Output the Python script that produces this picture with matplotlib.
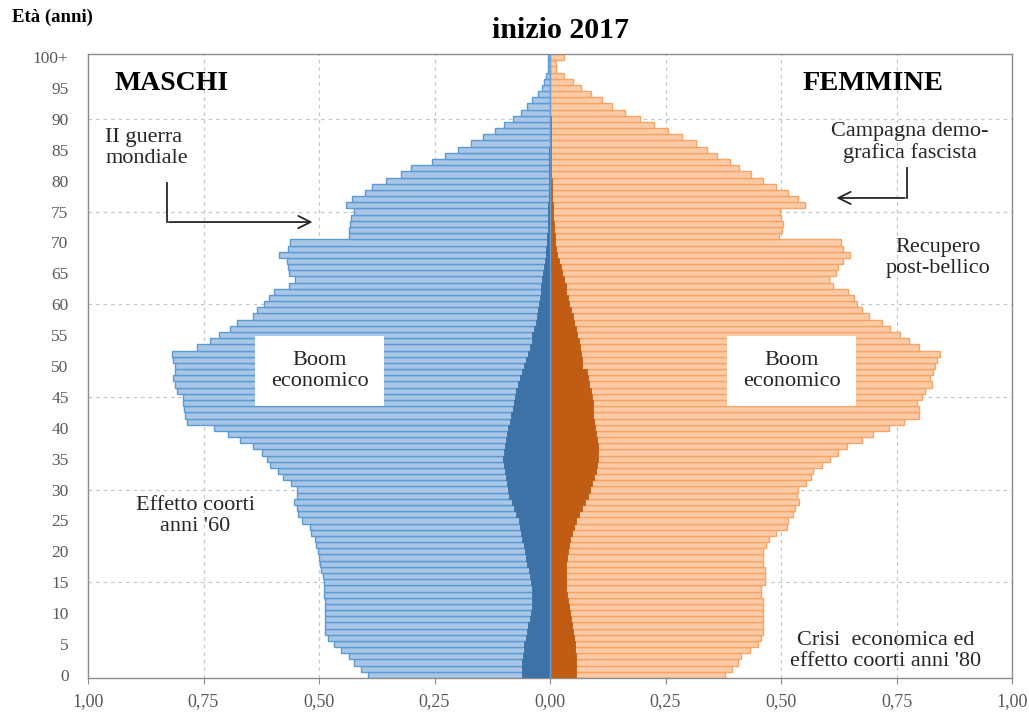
import numpy as np
import matplotlib
matplotlib.use("Agg")
import matplotlib.pyplot as plt

plt.rcParams['font.family'] = ['Liberation Serif', 'DejaVu Serif']

# eta' 0..100+ ; valori in % della popolazione totale
ages = list(range(101))
age_ticks = list(range(0, 101, 5))
age_labels = [str(a) for a in range(0, 100, 5)] + ['100+']

males_total = [
    0.395, 0.41, 0.425, 0.435, 0.453, 0.468, 0.48, 0.486, 0.487, 0.487,
    0.488, 0.487, 0.488, 0.489, 0.49, 0.49, 0.492, 0.495, 0.497, 0.5,
    0.503, 0.506, 0.508, 0.518, 0.52, 0.536, 0.545, 0.547, 0.555, 0.548,
    0.547, 0.56, 0.577, 0.588, 0.605, 0.612, 0.623, 0.642, 0.67, 0.696,
    0.728, 0.785, 0.79, 0.793, 0.795, 0.795, 0.807, 0.811, 0.815, 0.811,
    0.811, 0.815, 0.818, 0.764, 0.735, 0.717, 0.692, 0.677, 0.642, 0.634,
    0.62, 0.609, 0.597, 0.566, 0.553, 0.566, 0.568, 0.57, 0.587, 0.568,
    0.563, 0.436, 0.436, 0.432, 0.43, 0.425, 0.442, 0.428, 0.40, 0.385,
    0.355, 0.322, 0.30, 0.255, 0.228, 0.2, 0.17, 0.145, 0.12, 0.1,
    0.08, 0.063, 0.05, 0.038, 0.027, 0.018, 0.012, 0.008, 0.005, 0.004,
    0.005]

females_total = [
    0.378, 0.393, 0.407, 0.414, 0.432, 0.45, 0.457, 0.461, 0.462, 0.461,
    0.462, 0.461, 0.46, 0.457, 0.457, 0.465, 0.466, 0.465, 0.461, 0.461,
    0.462, 0.468, 0.475, 0.49, 0.512, 0.515, 0.526, 0.53, 0.54, 0.535,
    0.537, 0.555, 0.566, 0.57, 0.588, 0.605, 0.624, 0.642, 0.675, 0.70,
    0.733, 0.766, 0.798, 0.798, 0.795, 0.805, 0.812, 0.826, 0.823, 0.83,
    0.833, 0.837, 0.844, 0.798, 0.776, 0.758, 0.736, 0.718, 0.69, 0.675,
    0.664, 0.657, 0.646, 0.613, 0.603, 0.62, 0.624, 0.635, 0.65, 0.635,
    0.63, 0.495, 0.502, 0.505, 0.50, 0.497, 0.551, 0.537, 0.515, 0.49,
    0.46, 0.435, 0.41, 0.389, 0.362, 0.34, 0.315, 0.285, 0.255, 0.226,
    0.195, 0.163, 0.134, 0.112, 0.089, 0.067, 0.049, 0.03, 0.013, 0.013,
    0.03]

males_foreign = [
    0.06, 0.06, 0.06, 0.059, 0.057, 0.056, 0.053, 0.05, 0.047, 0.044,
    0.042, 0.04, 0.038, 0.038, 0.039, 0.041, 0.043, 0.046, 0.049, 0.052,
    0.055, 0.057, 0.06, 0.062, 0.064, 0.068, 0.073, 0.078, 0.083, 0.088,
    0.09, 0.093, 0.096, 0.098, 0.10, 0.102, 0.10, 0.098, 0.095, 0.093,
    0.09, 0.087, 0.084, 0.08, 0.078, 0.076, 0.073, 0.07, 0.066, 0.06,
    0.056, 0.052, 0.048, 0.044, 0.04, 0.038, 0.034, 0.031, 0.028, 0.026,
    0.024, 0.022, 0.02, 0.019, 0.017, 0.015, 0.013, 0.011, 0.009, 0.008,
    0.007, 0.006, 0.005, 0.005, 0.004, 0.004, 0.004, 0.003, 0.003, 0.003,
    0.003, 0.002, 0.002, 0.002, 0.002, 0.002, 0.001, 0.001, 0.001, 0.001,
    0.001, 0.001, 0.001, 0.001, 0.001, 0.001, 0.001, 0.001, 0.001, 0.001,
    0.001]

females_foreign = [
    0.056, 0.056, 0.056, 0.056, 0.055, 0.054, 0.052, 0.05, 0.047, 0.045,
    0.043, 0.041, 0.039, 0.037, 0.035, 0.034, 0.034, 0.034, 0.034, 0.036,
    0.038, 0.041, 0.044, 0.048, 0.052, 0.057, 0.063, 0.07, 0.076, 0.082,
    0.087, 0.091, 0.095, 0.099, 0.102, 0.103, 0.103, 0.103, 0.101, 0.099,
    0.097, 0.095, 0.094, 0.093, 0.092, 0.09, 0.088, 0.085, 0.082, 0.08,
    0.07, 0.069, 0.067, 0.065, 0.062, 0.059, 0.056, 0.052, 0.049, 0.045,
    0.041, 0.038, 0.035, 0.034, 0.03, 0.027, 0.023, 0.02, 0.016, 0.012,
    0.011, 0.01, 0.009, 0.008, 0.007, 0.006, 0.006, 0.005, 0.005, 0.004,
    0.004, 0.003, 0.003, 0.003, 0.003, 0.003, 0.002, 0.002, 0.002, 0.002,
    0.002, 0.001, 0.001, 0.001, 0.001, 0.001, 0.001, 0.001, 0.001, 0.001,
    0.001]

ages = np.array(ages)
m_tot = -np.array(males_total)
m_for = -np.array(males_foreign)
f_tot = np.array(females_total)
f_for = np.array(females_foreign)

fig = plt.figure(figsize=(10.29, 7.15), dpi=100)
ax = fig.add_axes([88 / 1029, 1 - 678 / 715, 924 / 1029, 624 / 715])

# griglia tratteggiata
for a in range(15, 100, 15):
    ax.axhline(a, color='#c8c8c8', lw=0.9, ls=(0, (3, 3)), zorder=0)
for v in [-0.75, -0.5, -0.25, 0.25, 0.5, 0.75]:
    ax.axvline(v, color='#c8c8c8', lw=0.9, ls=(0, (3, 3)), zorder=0)

ax.barh(ages, m_tot, height=1.0, color='#a9c6e6', edgecolor='#5b9bd5',
        linewidth=1.0, zorder=2)
ax.barh(ages, f_tot, height=1.0, color='#fbcba7', edgecolor='#f6a465',
        linewidth=1.0, zorder=2)
ax.barh(ages, m_for, height=1.0, color='#3c72a6', edgecolor='#3c72a6',
        linewidth=0.6, zorder=3)
ax.barh(ages, f_for, height=1.0, color='#c05c14', edgecolor='#c05c14',
        linewidth=0.6, zorder=3)
ax.axvline(0, color='#6a9fd0', lw=1.0, zorder=4)

ax.set_xlim(-1, 1)
ax.set_ylim(-0.5, 100.5)
xt = [-1, -0.75, -0.5, -0.25, 0, 0.25, 0.5, 0.75, 1]
ax.set_xticks(xt)
ax.set_xticklabels([('%.2f' % abs(v)).replace('.', ',') for v in xt])
ax.set_yticks(age_ticks)
ax.set_yticklabels(age_labels)
ax.tick_params(axis='x', labelsize=13, colors='#8c8c8c', labelcolor='#595959',
               length=4, pad=7)
ax.tick_params(axis='y', labelsize=12.5, labelcolor='#595959', length=0, pad=14)
for s in ax.spines.values():
    s.set_color('#8c8c8c')
    s.set_linewidth(1.0)

# titoli
fig.text(560 / 1029, 1 - 30 / 715, 'inizio 2017', ha='center', va='center',
         fontsize=21.5, fontweight='bold')
fig.text(12 / 1029, 1 - 17 / 715, 'Età (anni)', ha='left', va='center',
         fontsize=13.5, fontweight='bold')
ax.text(-0.943, 95.8, 'MASCHI', ha='left', va='center', fontsize=20,
        fontweight='bold')
ax.text(0.70, 95.8, 'FEMMINE', ha='center', va='center', fontsize=20.5,
        fontweight='bold')

# annotazioni
fs = 16
tc = '#262626'
ax.text(-0.963, 85.3, 'II guerra\nmondiale', ha='left', va='center',
        fontsize=fs, color=tc, linespacing=1.1)
ax.plot([-0.829, -0.829], [79.6, 73.3], color=tc, lw=1.3, zorder=5)
ax.annotate('', xy=(-0.508, 73.3), xytext=(-0.831, 73.3),
            arrowprops=dict(arrowstyle='->', color=tc, lw=1.3,
                            mutation_scale=22), zorder=5)
ax.text(0.779, 86.2, 'Campagna demo-\ngrafica fascista', ha='center',
        va='center', fontsize=fs, color=tc, linespacing=1.1)
ax.plot([0.772, 0.772], [82.0, 77.2], color=tc, lw=1.3, zorder=5)
ax.annotate('', xy=(0.614, 77.2), xytext=(0.774, 77.2),
            arrowprops=dict(arrowstyle='->', color=tc, lw=1.3,
                            mutation_scale=22), zorder=5)
ax.text(0.84, 67.5, 'Recupero\npost-bellico', ha='center', va='center',
        fontsize=fs, color=tc, linespacing=1.1)
box = dict(facecolor='white', edgecolor='none', pad=11)
ax.text(-0.499, 49.2, 'Boom\neconomico', ha='center', va='center',
        fontsize=fs, color=tc, linespacing=1.1, bbox=box, zorder=6)
ax.text(0.523, 49.2, 'Boom\neconomico', ha='center', va='center',
        fontsize=fs, color=tc, linespacing=1.1, bbox=box, zorder=6)
ax.text(-0.768, 25.7, "Effetto coorti\nanni '60", ha='center', va='center',
        fontsize=fs, color=tc, linespacing=1.1)
ax.text(0.727, 3.9, "Crisi  economica ed\neffetto coorti anni '80",
        ha='center', va='center', fontsize=fs, color=tc,
        linespacing=1.1, zorder=6)

fig.savefig('out.png', dpi=100)
